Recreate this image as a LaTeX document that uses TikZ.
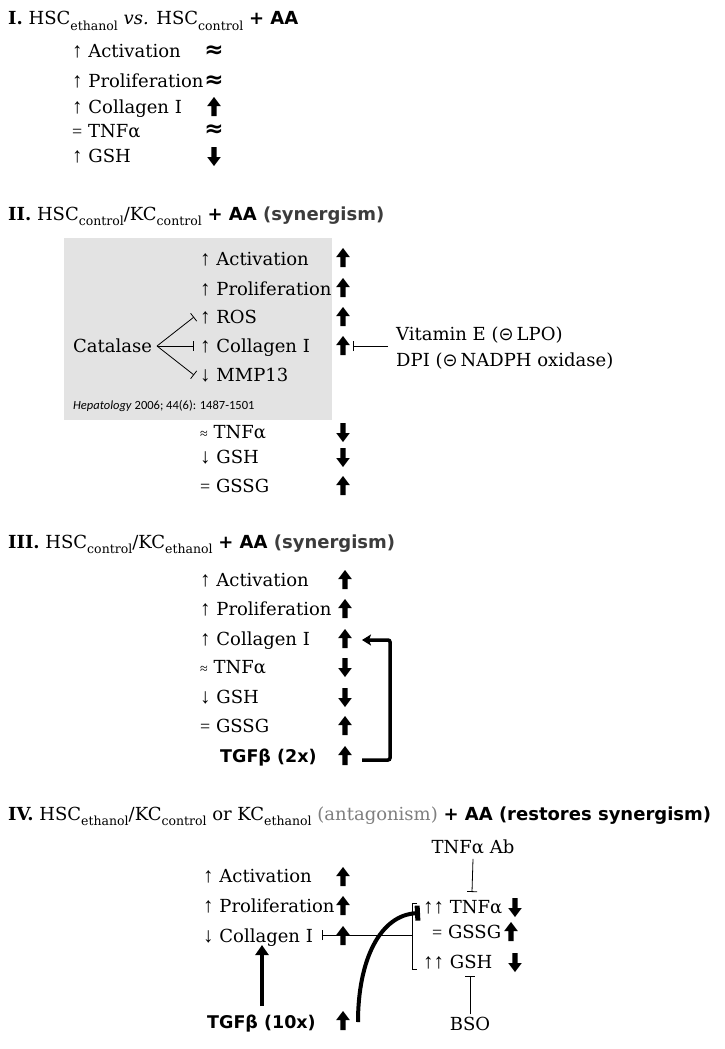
\documentclass[tikz,border=0pt]{standalone}
\usepackage{fontspec}
\setmainfont{DejaVu Serif}
\newfontfamily\symf{Liberation Serif}
\newfontfamily\dvs{DejaVu Sans}
\newfontfamily\calf{Carlito}
\usetikzlibrary{arrows.meta}
\definecolor{boxgray}{HTML}{E3E3E3}
\definecolor{syngray}{HTML}{3C3C3C}
\definecolor{antgray}{HTML}{7F7F7F}
\newcommand\upa{{\symf\fontsize{21}{21}\selectfont ↑}}
\newcommand\dna{{\symf\fontsize{21}{21}\selectfont ↓}}
\newcommand\sbx[1]{\raisebox{-0.3em}{\fontsize{12.5}{12.5}\selectfont #1}}
\newcommand\sbf{\dvs\bfseries}
\tikzset{
  txt/.style={anchor=base west, inner sep=0pt, font=\fontsize{18}{21}\selectfont},
  ttl/.style={anchor=base west, inner sep=0pt, font=\fontsize{18}{21}\selectfont},
  tgf/.style={anchor=base west, inner sep=0pt, font=\fontsize{17.5}{21}\selectfont\sbf},
  inh/.style={line width=0.8pt, -{Bar[width=10pt,line width=0.8pt]}},
  thickarr/.style={line width=3.5pt, rounded corners=2pt, -{Stealth[length=9pt,width=11pt,inset=2pt]}},
  uparr/.pic={\fill (-2.7,9) -- (-2.7,-1) -- (-6.8,-1) -- (0,-10) -- (6.8,-1) -- (2.7,-1) -- (2.7,9) -- cycle;},
  dnarr/.pic={\fill (-2.7,-9) -- (-2.7,1) -- (-6.8,1) -- (0,10) -- (6.8,1) -- (2.7,1) -- (2.7,-9) -- cycle;},
  approx/.style={inner sep=0pt, font=\fontsize{23}{23}\selectfont\dvs\bfseries}
}
\begin{document}
\begin{tikzpicture}[x=1pt,y=-1pt]
\useasboundingbox[fill=white] (0,0) rectangle (725,1049);

% ---------------- Section I ----------------
\node[ttl] (t1) at (8,25) {\textbf{I.} HSC\sbx{ethanol} \textit{vs.} HSC\sbx{control} {\sbf + AA}};
\node[txt] (i1) at (72,58) {\upa\ Activation};
\node[txt] (i2) at (72,88) {\upa\ Proliferation};
\node[txt] (i3) at (72,113) {\upa\ Collagen I};
\node[txt] (i4) at (72,137) {{\symf =} TNFα};
\node[txt] (i5) at (72,162) {\upa\ GSH};
\node[approx] (s1) at (214,52) {≈};
\node[approx] (s2) at (214,82) {≈};
\pic at (214,107) {uparr};
\node[approx] (s4) at (214,131) {≈};
\pic at (214,156) {dnarr};

% ---------------- Section II ----------------
\fill[boxgray] (64,238) rectangle (332,420);
\node[ttl] (t2) at (8,220) {\textbf{II.} HSC\sbx{control}/KC\sbx{control} {\sbf + AA \textcolor{syngray}{(synergism)}}};
\node[txt] (a2) at (200,265) {\upa\ Activation};
\node[txt] (p2) at (200,295) {\upa\ Proliferation};
\node[txt] (r2) at (200,323) {\upa\ ROS};
\node[txt] (c2) at (200,352) {\upa\ Collagen I};
\node[txt] (m2) at (200,381) {\dna\ MMP13};
\node[anchor=base west, inner sep=0pt, font=\calf\fontsize{12.5}{14}\selectfont] (ref) at (73,409) {\textit{Hepatology} 2006; 44(6): 1487-1501};
\node[txt] (tn2) at (200,438) {{\symf\fontsize{14}{14}\selectfont ≈} TNFα};
\node[txt] (g2) at (200,463) {\dna\ GSH};
\node[txt] (gs2) at (200,492) {{\symf =} GSSG};
\node[txt] (cat) at (73,352) {Catalase};
\coordinate (cb) at (157,346);
\coordinate (rosI) at (194,317);
\coordinate (colI) at (194,346);
\coordinate (mmpI) at (194,375);
\draw[inh] (cb) -- (rosI);
\draw[inh] (cb) -- (colI);
\draw[inh] (cb) -- (mmpI);
\pic at (343,258) {uparr};
\pic at (343,288) {uparr};
\pic at (343,317) {uparr};
\pic at (343,346) {uparr};
\pic at (343,432) {dnarr};
\pic at (343,457) {dnarr};
\pic at (343,486) {uparr};
\node[txt] (vit) at (396,340) {Vitamin E ({\dvs ⊝}\,LPO)};
\node[txt] (dpi) at (396,366) {DPI ({\dvs ⊝}\,NADPH oxidase)};
\coordinate (vitS) at (388,346);
\coordinate (colII) at (353,346);
\draw[inh] (vitS) -- (colII);

% ---------------- Section III ----------------
\node[ttl] (t3) at (8,548) {\textbf{III.} HSC\sbx{control}/KC\sbx{ethanol} {\sbf + AA \textcolor{syngray}{(synergism)}}};
\node[txt] (a3) at (200,586) {\upa\ Activation};
\node[txt] (p3) at (200,615) {\upa\ Proliferation};
\node[txt] (c3) at (200,645) {\upa\ Collagen I};
\node[txt] (tn3) at (200,673) {{\symf\fontsize{14}{14}\selectfont ≈} TNFα};
\node[txt] (g3) at (200,703) {\dna\ GSH};
\node[txt] (gs3) at (200,732) {{\symf =} GSSG};
\node[tgf] (tg3) at (220,762) {TGFβ (2x)};
\pic at (345,580) {uparr};
\pic at (345,609) {uparr};
\pic at (345,639) {uparr};
\pic at (345,667) {dnarr};
\pic at (345,697) {dnarr};
\pic at (345,726) {uparr};
\pic at (345,756) {uparr};
\coordinate (fbS) at (362,760);
\coordinate (fbE) at (362,640);
\draw[thickarr] (fbS) -- (390,760) -- (390,640) -- (fbE);

% ---------------- Section IV ----------------
\node[ttl] (t4) at (8,820) {\textbf{IV.} HSC\sbx{ethanol}/KC\sbx{control} or KC\sbx{ethanol} \textcolor{antgray}{(antagonism)} {\sbf + AA (restores synergism)}};
\node[txt] (a4) at (203,882) {\upa\ Activation};
\node[txt] (p4) at (203,912) {\upa\ Proliferation};
\node[txt] (c4) at (203,942) {\dna\ Collagen I};
\node[tgf] (tg4) at (207,1028) {TGFβ (10x)};
\pic at (343,877) {uparr};
\pic at (343,906) {uparr};
\coordinate (colBar) at (322,935);
\coordinate (brk) at (412,935);
\draw[inh] (brk) -- (colBar);
\pic at (343,936) {uparr};
\pic at (343,1021) {uparr};
\node[txt, anchor=base] (ab) at (473,853) {TNFα Ab};
\node[txt] (tn4) at (423,913) {\upa\upa\ TNFα};
\node[txt] (gs4) at (432,938) {{\symf =} GSSG};
\node[txt] (g4) at (423,968) {\upa\upa\ GSH};
\node[txt, anchor=base] (bso) at (470,1030) {BSO};
\pic at (515,907) {dnarr};
\pic at (511,932) {uparr};
\pic at (515,962) {dnarr};
\draw[line width=0.8pt] (417,903) -- (412,903) -- (412,969) -- (417,969);
\coordinate (abE) at (472,892);
\draw[inh] (ab.south) ++(0,5) -- (abE);
\coordinate (gshB) at (470,976);
\draw[inh] (bso.north) ++(0,-2) -- (gshB);
\coordinate (tgS) at (262,1006);
\coordinate (colS) at (262,945);
\draw[line width=4.5pt, -{Triangle[length=10pt,width=13pt]}] (tgS) -- (colS);
\coordinate (cvS) at (358,1022);
\coordinate (cvE) at (420,913);
\draw[line width=4pt, -{Bar[width=15pt,line width=5pt]}] (cvS) .. controls (358,960) and (380,915) .. (cvE);
\end{tikzpicture}
\end{document}
